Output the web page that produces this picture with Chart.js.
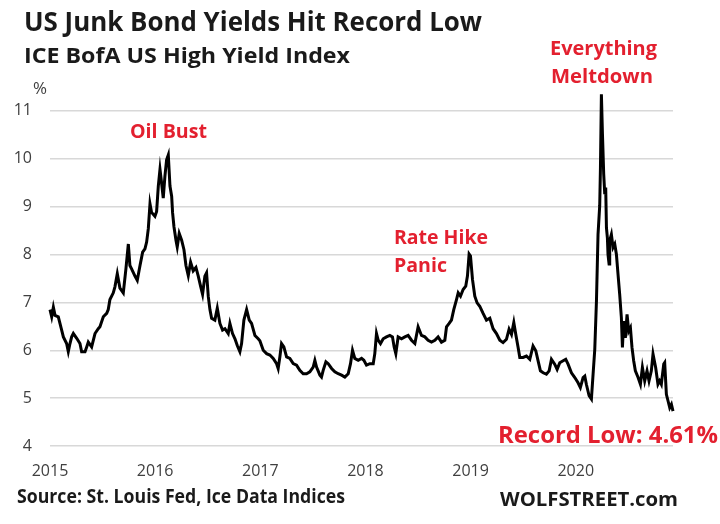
<!DOCTYPE html>
<html>

<head>
  <title>US Junk Bond Yields</title>
  <script src="https://cdn.jsdelivr.net/npm/chart.js@4"></script>
  <style>
    body {
      margin: 0;
      background: #fff;
    }

    .chart-container {
      width: 720px;
      height: 524px;
      position: relative;
    }
  </style>
</head>

<body>
  <div class="chart-container">
    <canvas id="chart"></canvas>
  </div>
  <script>
    // ICE BofA US High Yield Index, effective yield (%)
    const years = [
      2015.000, 2015.016, 2015.032, 2015.048, 2015.079, 2015.111, 2015.127, 2015.158, 2015.174, 2015.190,
      2015.206, 2015.222, 2015.254, 2015.285, 2015.301, 2015.333, 2015.349, 2015.364, 2015.396, 2015.428,
      2015.459, 2015.475, 2015.507, 2015.539, 2015.554, 2015.570, 2015.602, 2015.618, 2015.640, 2015.665,
      2015.697, 2015.722, 2015.745, 2015.760, 2015.776, 2015.808, 2015.830, 2015.856, 2015.881, 2015.903,
      2015.919, 2015.935, 2015.951, 2015.966, 2015.998, 2016.014, 2016.030, 2016.046, 2016.061, 2016.077,
      2016.093, 2016.109, 2016.125, 2016.141, 2016.157, 2016.166, 2016.179, 2016.198, 2016.210, 2016.229,
      2016.252, 2016.274, 2016.293, 2016.315, 2016.337, 2016.362, 2016.388, 2016.410, 2016.432, 2016.451,
      2016.473, 2016.489, 2016.505, 2016.521, 2016.537, 2016.568, 2016.591, 2016.616, 2016.641, 2016.664,
      2016.695, 2016.711, 2016.736, 2016.759, 2016.781, 2016.806, 2016.822, 2016.844, 2016.870, 2016.895,
      2016.917, 2016.949, 2016.980, 2016.996, 2017.028, 2017.060, 2017.091, 2017.123, 2017.155, 2017.170,
      2017.186, 2017.202, 2017.224, 2017.250, 2017.281, 2017.313, 2017.345, 2017.376, 2017.408, 2017.440,
      2017.471, 2017.503, 2017.519, 2017.535, 2017.567, 2017.582, 2017.598, 2017.624, 2017.646, 2017.678,
      2017.709, 2017.741, 2017.773, 2017.804, 2017.836, 2017.858, 2017.877, 2017.899, 2017.931, 2017.963,
      2017.985, 2018.010, 2018.042, 2018.074, 2018.089, 2018.105, 2018.121, 2018.143, 2018.169, 2018.200,
      2018.232, 2018.257, 2018.273, 2018.289, 2018.311, 2018.343, 2018.375, 2018.406, 2018.438, 2018.470,
      2018.501, 2018.533, 2018.565, 2018.596, 2018.628, 2018.660, 2018.691, 2018.723, 2018.755, 2018.771,
      2018.796, 2018.818, 2018.840, 2018.866, 2018.882, 2018.904, 2018.929, 2018.954, 2018.970, 2018.986,
      2018.999, 2019.018, 2019.040, 2019.062, 2019.087, 2019.119, 2019.151, 2019.183, 2019.214, 2019.246,
      2019.278, 2019.309, 2019.341, 2019.366, 2019.389, 2019.411, 2019.430, 2019.452, 2019.468, 2019.499,
      2019.531, 2019.563, 2019.594, 2019.620, 2019.642, 2019.664, 2019.690, 2019.721, 2019.747, 2019.769,
      2019.800, 2019.823, 2019.848, 2019.880, 2019.905, 2019.927, 2019.959, 2019.991, 2020.022, 2020.044,
      2020.070, 2020.086, 2020.101, 2020.127, 2020.149, 2020.165, 2020.181, 2020.197, 2020.212, 2020.228,
      2020.235, 2020.244, 2020.254, 2020.266, 2020.276, 2020.285, 2020.292, 2020.301, 2020.307, 2020.317,
      2020.323, 2020.339, 2020.355, 2020.371, 2020.387, 2020.402, 2020.418, 2020.434, 2020.444, 2020.456,
      2020.472, 2020.488, 2020.504, 2020.520, 2020.535, 2020.551, 2020.567, 2020.593, 2020.615, 2020.634,
      2020.656, 2020.678, 2020.697, 2020.719, 2020.735, 2020.760, 2020.782, 2020.798, 2020.814, 2020.837,
      2020.846, 2020.862, 2020.878, 2020.894, 2020.910, 2020.925, 2020.941
    ];
    const yields = [
      6.85, 6.70, 6.90, 6.73, 6.70, 6.42, 6.28, 6.14, 5.97, 6.14,
      6.28, 6.35, 6.25, 6.14, 5.97, 5.97, 6.07, 6.17, 6.07, 6.35,
      6.45, 6.49, 6.70, 6.77, 6.85, 7.06, 7.20, 7.33, 7.60, 7.30,
      7.20, 7.70, 8.22, 7.77, 7.70, 7.55, 7.46, 7.77, 8.05, 8.12,
      8.26, 8.54, 9.06, 8.88, 8.80, 8.90, 9.43, 9.78, 9.50, 9.18,
      9.64, 9.98, 10.08, 9.43, 9.22, 8.87, 8.58, 8.30, 8.16, 8.44,
      8.30, 8.10, 7.77, 7.56, 7.84, 7.66, 7.73, 7.55, 7.34, 7.17,
      7.55, 7.62, 7.13, 6.85, 6.67, 6.63, 6.88, 6.56, 6.42, 6.45,
      6.35, 6.56, 6.35, 6.24, 6.10, 5.97, 6.14, 6.63, 6.85, 6.63,
      6.56, 6.31, 6.24, 6.20, 6.00, 5.93, 5.90, 5.83, 5.72, 5.62,
      5.86, 6.14, 6.07, 5.86, 5.83, 5.72, 5.69, 5.58, 5.51, 5.51,
      5.55, 5.65, 5.79, 5.65, 5.48, 5.44, 5.58, 5.76, 5.72, 5.62,
      5.55, 5.51, 5.48, 5.44, 5.51, 5.72, 6.00, 5.83, 5.79, 5.83,
      5.79, 5.69, 5.72, 5.72, 5.93, 6.35, 6.21, 6.14, 6.24, 6.28,
      6.31, 6.28, 6.07, 5.93, 6.28, 6.24, 6.28, 6.31, 6.21, 6.14,
      6.49, 6.31, 6.28, 6.21, 6.17, 6.21, 6.28, 6.17, 6.21, 6.49,
      6.56, 6.63, 6.85, 7.06, 7.20, 7.13, 7.27, 7.34, 7.55, 8.01,
      7.97, 7.48, 7.13, 6.99, 6.92, 6.77, 6.63, 6.67, 6.45, 6.35,
      6.21, 6.16, 6.23, 6.44, 6.33, 6.58, 6.33, 6.06, 5.85, 5.85,
      5.88, 5.81, 6.09, 5.99, 5.78, 5.57, 5.53, 5.50, 5.57, 5.81,
      5.71, 5.60, 5.74, 5.78, 5.81, 5.71, 5.53, 5.43, 5.32, 5.22,
      5.43, 5.46, 5.29, 5.05, 4.98, 5.50, 6.02, 7.03, 8.42, 9.02,
      9.82, 11.35, 10.52, 9.68, 9.26, 9.40, 8.56, 8.35, 8.00, 7.80,
      8.29, 8.42, 8.15, 8.22, 8.00, 7.59, 7.17, 6.68, 6.06, 6.61,
      6.26, 6.75, 6.40, 6.47, 6.06, 5.78, 5.57, 5.43, 5.29, 5.64,
      5.36, 5.57, 5.36, 5.57, 5.92, 5.64, 5.29, 5.36, 5.29, 5.71,
      5.74, 5.08, 4.94, 4.80, 4.87, 4.73, 4.61
    ];
    const yearTicks = [2015, 2016, 2017, 2018, 2019, 2020];
    const yieldTicks = [4, 5, 6, 7, 8, 9, 10, 11];

    const RED = '#e3202f';
    const INK = '#1a1a1a';

    // [text, left x, baseline y, font, colour, width to fit]
    const labels = [
      ['US Junk Bond Yields Hit Record Low', 24, 31, 'bold 26px "Open Sans"', INK, 458],
      ['ICE BofA US High Yield Index', 24, 63, 'bold 22px "Open Sans"', INK, 326],
      ['%', 33, 94, '16px "Open Sans"', '#404040', 14],
      ['Oil Bust', 130, 138, 'bold 19px "Open Sans"', RED, 77],
      ['Rate Hike', 394, 244, 'bold 19px "Open Sans"', RED, 94],
      ['Panic', 394, 272, 'bold 19px "Open Sans"', RED, 53],
      ['Everything', 550, 55, 'bold 19px "Open Sans"', RED, 107],
      ['Meltdown', 551, 83, 'bold 19px "Open Sans"', RED, 102],
      ['Record Low: 4.61%', 498, 443, 'bold 23px "Open Sans"', RED, 220],
      ['Source: St. Louis Fed, Ice Data Indices', 17, 503, 'bold 19px "Open Sans"', INK, 328],
      ['WOLFSTREET.com', 500, 506, 'bold 20px "Open Sans"', INK, 178]
    ];

    const textPlugin = {
      id: 'texts',
      afterDraw(chart) {
        const ctx = chart.ctx;
        for (const [str, x, y, font, color, width] of labels) {
          ctx.save();
          ctx.font = font;
          ctx.fillStyle = color;
          ctx.textAlign = 'left';
          ctx.textBaseline = 'alphabetic';
          const w = ctx.measureText(str).width;
          ctx.translate(x, y);
          ctx.scale(width / w, 1);
          ctx.fillText(str, 0, 0);
          ctx.restore();
        }
      }
    };

    const ctx = document.getElementById('chart').getContext('2d');
    new Chart(ctx, {
      type: 'line',
      data: {
        datasets: [{
          data: years.map((x, i) => ({ x: x, y: yields[i] })),
          borderColor: '#000',
          borderWidth: 3,
          borderJoinStyle: 'miter',
          pointRadius: 0,
          tension: 0,
          clip: false
        }]
      },
      options: {
        responsive: true,
        maintainAspectRatio: false,
        animation: false,
        layout: {
          padding: { left: 0, right: 47, top: 87, bottom: 48 }
        },
        plugins: {
          legend: { display: false },
          tooltip: { enabled: false }
        },
        scales: {
          x: {
            type: 'linear',
            min: 2015,
            max: 2020.925,
            afterBuildTicks: scale => {
              scale.ticks = yearTicks.map(v => ({ value: v }));
            },
            afterFit: scale => { scale.height = 30; },
            ticks: {
              padding: 16,
              maxRotation: 0,
              color: '#404040',
              font: { family: 'Open Sans', size: 16 },
              callback: v => String(v)
            },
            grid: { display: false, drawTicks: false },
            border: { display: false }
          },
          y: {
            min: 4,
            max: 11.5,
            afterBuildTicks: scale => {
              scale.ticks = yieldTicks.map(v => ({ value: v }));
            },
            afterFit: scale => { scale.width = 50; },
            ticks: {
              padding: 18,
              color: '#404040',
              font: { family: 'Open Sans', size: 16 }
            },
            grid: { color: '#d8d8d8', lineWidth: 1.5, drawTicks: false },
            border: { display: false }
          }
        }
      },
      plugins: [textPlugin]
    });
  </script>
</body>

</html>
